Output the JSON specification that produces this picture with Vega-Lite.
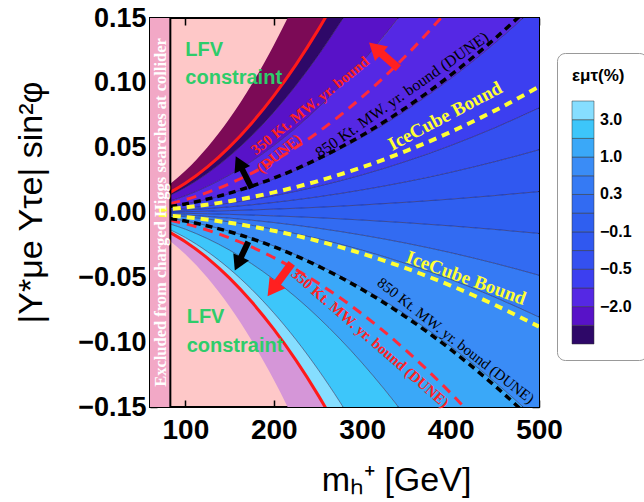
{
  "$schema": "https://vega.github.io/schema/vega-lite/v6.json",
  "autosize": "none",
  "width": 389,
  "height": 389,
  "padding": {"left": 150, "top": 18, "right": 105, "bottom": 95},
  "background": "white",
  "view": {"fill": "#fec8c8", "stroke": "black", "strokeWidth": 2},
  "resolve": {"axis": {"x": "independent", "y": "independent"}},
  "config": {
    "font": "Liberation Sans",
    "axis": {"grid": false, "domain": false, "labelColor": "black", "labelFont": "Liberation Sans", "labelFontWeight": "bold", "tickColor": "black", "tickSize": -7, "tickWidth": 1.5, "titleColor": "black", "titleFont": "Liberation Sans", "titleFontWeight": "normal", "labelFlush": false}
  },
  "datasets": {
    "bands": [
      {"b":"c0","lv":7,"m":83,"lo":-0.00044,"hi":0.00044},{"b":"c0","lv":7,"m":100,"lo":-0.00065,"hi":0.00065},{"b":"c0","lv":7,"m":125,"lo":-0.00101,"hi":0.00101},{"b":"c0","lv":7,"m":150,"lo":-0.00145,"hi":0.00145},{"b":"c0","lv":7,"m":175,"lo":-0.00198,"hi":0.00198},{"b":"c0","lv":7,"m":200,"lo":-0.00258,"hi":0.00258},{"b":"c0","lv":7,"m":225,"lo":-0.00327,"hi":0.00327},{"b":"c0","lv":7,"m":250,"lo":-0.00403,"hi":0.00403},{"b":"c0","lv":7,"m":275,"lo":-0.00488,"hi":0.00488},{"b":"c0","lv":7,"m":300,"lo":-0.00581,"hi":0.00581},{"b":"c0","lv":7,"m":350,"lo":-0.0079,"hi":0.0079},{"b":"c0","lv":7,"m":400,"lo":-0.01032,"hi":0.01032},{"b":"c0","lv":7,"m":450,"lo":-0.01306,"hi":0.01306},{"b":"c0","lv":7,"m":500,"lo":-0.01613,"hi":0.01613},
      {"b":"u8","lv":6,"m":83,"lo":0.00044,"hi":0.00133},{"b":"u8","lv":6,"m":100,"lo":0.00065,"hi":0.00194},{"b":"u8","lv":6,"m":125,"lo":0.00101,"hi":0.00302},{"b":"u8","lv":6,"m":150,"lo":0.00145,"hi":0.00435},{"b":"u8","lv":6,"m":175,"lo":0.00198,"hi":0.00593},{"b":"u8","lv":6,"m":200,"lo":0.00258,"hi":0.00774},{"b":"u8","lv":6,"m":225,"lo":0.00327,"hi":0.0098},{"b":"u8","lv":6,"m":250,"lo":0.00403,"hi":0.01209},{"b":"u8","lv":6,"m":275,"lo":0.00488,"hi":0.01463},{"b":"u8","lv":6,"m":300,"lo":0.00581,"hi":0.01742},{"b":"u8","lv":6,"m":350,"lo":0.0079,"hi":0.0237},{"b":"u8","lv":6,"m":400,"lo":0.01032,"hi":0.03096},{"b":"u8","lv":6,"m":450,"lo":0.01306,"hi":0.03918},{"b":"u8","lv":6,"m":500,"lo":0.01613,"hi":0.04838},
      {"b":"u9","lv":5,"m":83,"lo":0.00133,"hi":0.00222},{"b":"u9","lv":5,"m":100,"lo":0.00194,"hi":0.00323},{"b":"u9","lv":5,"m":125,"lo":0.00302,"hi":0.00504},{"b":"u9","lv":5,"m":150,"lo":0.00435,"hi":0.00726},{"b":"u9","lv":5,"m":175,"lo":0.00593,"hi":0.00988},{"b":"u9","lv":5,"m":200,"lo":0.00774,"hi":0.0129},{"b":"u9","lv":5,"m":225,"lo":0.0098,"hi":0.01633},{"b":"u9","lv":5,"m":250,"lo":0.01209,"hi":0.02016},{"b":"u9","lv":5,"m":275,"lo":0.01463,"hi":0.02439},{"b":"u9","lv":5,"m":300,"lo":0.01742,"hi":0.02903},{"b":"u9","lv":5,"m":350,"lo":0.0237,"hi":0.03951},{"b":"u9","lv":5,"m":400,"lo":0.03096,"hi":0.0516},{"b":"u9","lv":5,"m":450,"lo":0.03918,"hi":0.06531},{"b":"u9","lv":5,"m":500,"lo":0.04838,"hi":0.08063},
      {"b":"u10","lv":4,"m":83,"lo":0.00222,"hi":0.00444},{"b":"u10","lv":4,"m":100,"lo":0.00323,"hi":0.00645},{"b":"u10","lv":4,"m":125,"lo":0.00504,"hi":0.01008},{"b":"u10","lv":4,"m":150,"lo":0.00726,"hi":0.01451},{"b":"u10","lv":4,"m":175,"lo":0.00988,"hi":0.01975},{"b":"u10","lv":4,"m":200,"lo":0.0129,"hi":0.0258},{"b":"u10","lv":4,"m":225,"lo":0.01633,"hi":0.03265},{"b":"u10","lv":4,"m":250,"lo":0.02016,"hi":0.04031},{"b":"u10","lv":4,"m":275,"lo":0.02439,"hi":0.04878},{"b":"u10","lv":4,"m":300,"lo":0.02903,"hi":0.05805},{"b":"u10","lv":4,"m":350,"lo":0.03951,"hi":0.07901},{"b":"u10","lv":4,"m":400,"lo":0.0516,"hi":0.1032},{"b":"u10","lv":4,"m":450,"lo":0.06531,"hi":0.13061},{"b":"u10","lv":4,"m":500,"lo":0.08063,"hi":0.16125},
      {"b":"u11","lv":3,"m":83,"lo":0.00444,"hi":0.00889},{"b":"u11","lv":3,"m":100,"lo":0.00645,"hi":0.0129},{"b":"u11","lv":3,"m":125,"lo":0.01008,"hi":0.02016},{"b":"u11","lv":3,"m":150,"lo":0.01451,"hi":0.02903},{"b":"u11","lv":3,"m":175,"lo":0.01975,"hi":0.0395},{"b":"u11","lv":3,"m":200,"lo":0.0258,"hi":0.0516},{"b":"u11","lv":3,"m":225,"lo":0.03265,"hi":0.0653},{"b":"u11","lv":3,"m":250,"lo":0.04031,"hi":0.08063},{"b":"u11","lv":3,"m":275,"lo":0.04878,"hi":0.09756},{"b":"u11","lv":3,"m":300,"lo":0.05805,"hi":0.1161},{"b":"u11","lv":3,"m":350,"lo":0.07901,"hi":0.15802},{"b":"u11","lv":3,"m":400,"lo":0.1032,"hi":0.2064},{"b":"u11","lv":3,"m":450,"lo":0.13061,"hi":0.26122},{"b":"u11","lv":3,"m":500,"lo":0.16125,"hi":0.3225},
      {"b":"u12","lv":2,"m":83,"lo":0.00889,"hi":0.01333},{"b":"u12","lv":2,"m":100,"lo":0.0129,"hi":0.01935},{"b":"u12","lv":2,"m":125,"lo":0.02016,"hi":0.03023},{"b":"u12","lv":2,"m":150,"lo":0.02903,"hi":0.04354},{"b":"u12","lv":2,"m":175,"lo":0.0395,"hi":0.05926},{"b":"u12","lv":2,"m":200,"lo":0.0516,"hi":0.0774},{"b":"u12","lv":2,"m":225,"lo":0.0653,"hi":0.09796},{"b":"u12","lv":2,"m":250,"lo":0.08063,"hi":0.12094},{"b":"u12","lv":2,"m":275,"lo":0.09756,"hi":0.14634},{"b":"u12","lv":2,"m":300,"lo":0.1161,"hi":0.17415},{"b":"u12","lv":2,"m":350,"lo":0.15802,"hi":0.23703},
      {"b":"u13","lv":1,"m":83,"lo":0.01333,"hi":0.0155},{"b":"u13","lv":1,"m":100,"lo":0.01935,"hi":0.0225},{"b":"u13","lv":1,"m":125,"lo":0.03023,"hi":0.03516},{"b":"u13","lv":1,"m":150,"lo":0.04354,"hi":0.05063},{"b":"u13","lv":1,"m":175,"lo":0.05926,"hi":0.06891},{"b":"u13","lv":1,"m":200,"lo":0.0774,"hi":0.09},{"b":"u13","lv":1,"m":225,"lo":0.09796,"hi":0.11391},{"b":"u13","lv":1,"m":250,"lo":0.12094,"hi":0.14063},{"b":"u13","lv":1,"m":275,"lo":0.14634,"hi":0.17016},{"b":"u13","lv":1,"m":300,"lo":0.17415,"hi":0.2025},
      {"b":"d6","lv":8,"m":83,"lo":-0.00133,"hi":-0.00044},{"b":"d6","lv":8,"m":100,"lo":-0.00194,"hi":-0.00065},{"b":"d6","lv":8,"m":125,"lo":-0.00302,"hi":-0.00101},{"b":"d6","lv":8,"m":150,"lo":-0.00435,"hi":-0.00145},{"b":"d6","lv":8,"m":175,"lo":-0.00593,"hi":-0.00198},{"b":"d6","lv":8,"m":200,"lo":-0.00774,"hi":-0.00258},{"b":"d6","lv":8,"m":225,"lo":-0.0098,"hi":-0.00327},{"b":"d6","lv":8,"m":250,"lo":-0.01209,"hi":-0.00403},{"b":"d6","lv":8,"m":275,"lo":-0.01463,"hi":-0.00488},{"b":"d6","lv":8,"m":300,"lo":-0.01742,"hi":-0.00581},{"b":"d6","lv":8,"m":350,"lo":-0.0237,"hi":-0.0079},{"b":"d6","lv":8,"m":400,"lo":-0.03096,"hi":-0.01032},{"b":"d6","lv":8,"m":450,"lo":-0.03918,"hi":-0.01306},{"b":"d6","lv":8,"m":500,"lo":-0.04838,"hi":-0.01613},
      {"b":"d5","lv":9,"m":83,"lo":-0.00222,"hi":-0.00133},{"b":"d5","lv":9,"m":100,"lo":-0.00323,"hi":-0.00194},{"b":"d5","lv":9,"m":125,"lo":-0.00504,"hi":-0.00302},{"b":"d5","lv":9,"m":150,"lo":-0.00726,"hi":-0.00435},{"b":"d5","lv":9,"m":175,"lo":-0.00988,"hi":-0.00593},{"b":"d5","lv":9,"m":200,"lo":-0.0129,"hi":-0.00774},{"b":"d5","lv":9,"m":225,"lo":-0.01633,"hi":-0.0098},{"b":"d5","lv":9,"m":250,"lo":-0.02016,"hi":-0.01209},{"b":"d5","lv":9,"m":275,"lo":-0.02439,"hi":-0.01463},{"b":"d5","lv":9,"m":300,"lo":-0.02903,"hi":-0.01742},{"b":"d5","lv":9,"m":350,"lo":-0.03951,"hi":-0.0237},{"b":"d5","lv":9,"m":400,"lo":-0.0516,"hi":-0.03096},{"b":"d5","lv":9,"m":450,"lo":-0.06531,"hi":-0.03918},{"b":"d5","lv":9,"m":500,"lo":-0.08063,"hi":-0.04838},
      {"b":"d4","lv":10,"m":83,"lo":-0.00444,"hi":-0.00222},{"b":"d4","lv":10,"m":100,"lo":-0.00645,"hi":-0.00323},{"b":"d4","lv":10,"m":125,"lo":-0.01008,"hi":-0.00504},{"b":"d4","lv":10,"m":150,"lo":-0.01451,"hi":-0.00726},{"b":"d4","lv":10,"m":175,"lo":-0.01975,"hi":-0.00988},{"b":"d4","lv":10,"m":200,"lo":-0.0258,"hi":-0.0129},{"b":"d4","lv":10,"m":225,"lo":-0.03265,"hi":-0.01633},{"b":"d4","lv":10,"m":250,"lo":-0.04031,"hi":-0.02016},{"b":"d4","lv":10,"m":275,"lo":-0.04878,"hi":-0.02439},{"b":"d4","lv":10,"m":300,"lo":-0.05805,"hi":-0.02903},{"b":"d4","lv":10,"m":350,"lo":-0.07901,"hi":-0.03951},{"b":"d4","lv":10,"m":400,"lo":-0.1032,"hi":-0.0516},{"b":"d4","lv":10,"m":450,"lo":-0.13061,"hi":-0.06531},{"b":"d4","lv":10,"m":500,"lo":-0.16125,"hi":-0.08063},
      {"b":"d3","lv":11,"m":83,"lo":-0.00889,"hi":-0.00444},{"b":"d3","lv":11,"m":100,"lo":-0.0129,"hi":-0.00645},{"b":"d3","lv":11,"m":125,"lo":-0.02016,"hi":-0.01008},{"b":"d3","lv":11,"m":150,"lo":-0.02903,"hi":-0.01451},{"b":"d3","lv":11,"m":175,"lo":-0.0395,"hi":-0.01975},{"b":"d3","lv":11,"m":200,"lo":-0.0516,"hi":-0.0258},{"b":"d3","lv":11,"m":225,"lo":-0.0653,"hi":-0.03265},{"b":"d3","lv":11,"m":250,"lo":-0.08063,"hi":-0.04031},{"b":"d3","lv":11,"m":275,"lo":-0.09756,"hi":-0.04878},{"b":"d3","lv":11,"m":300,"lo":-0.1161,"hi":-0.05805},{"b":"d3","lv":11,"m":350,"lo":-0.15802,"hi":-0.07901},{"b":"d3","lv":11,"m":400,"lo":-0.2064,"hi":-0.1032},{"b":"d3","lv":11,"m":450,"lo":-0.26122,"hi":-0.13061},{"b":"d3","lv":11,"m":500,"lo":-0.3225,"hi":-0.16125},
      {"b":"d2","lv":12,"m":83,"lo":-0.01333,"hi":-0.00889},{"b":"d2","lv":12,"m":100,"lo":-0.01935,"hi":-0.0129},{"b":"d2","lv":12,"m":125,"lo":-0.03023,"hi":-0.02016},{"b":"d2","lv":12,"m":150,"lo":-0.04354,"hi":-0.02903},{"b":"d2","lv":12,"m":175,"lo":-0.05926,"hi":-0.0395},{"b":"d2","lv":12,"m":200,"lo":-0.0774,"hi":-0.0516},{"b":"d2","lv":12,"m":225,"lo":-0.09796,"hi":-0.0653},{"b":"d2","lv":12,"m":250,"lo":-0.12094,"hi":-0.08063},{"b":"d2","lv":12,"m":275,"lo":-0.14634,"hi":-0.09756},{"b":"d2","lv":12,"m":300,"lo":-0.17415,"hi":-0.1161},{"b":"d2","lv":12,"m":350,"lo":-0.23703,"hi":-0.15802},
      {"b":"d1","lv":13,"m":83,"lo":-0.0155,"hi":-0.01333},{"b":"d1","lv":13,"m":100,"lo":-0.0225,"hi":-0.01935},{"b":"d1","lv":13,"m":125,"lo":-0.03516,"hi":-0.03023},{"b":"d1","lv":13,"m":150,"lo":-0.05063,"hi":-0.04354},{"b":"d1","lv":13,"m":175,"lo":-0.06891,"hi":-0.05926},{"b":"d1","lv":13,"m":200,"lo":-0.09,"hi":-0.0774},{"b":"d1","lv":13,"m":225,"lo":-0.11391,"hi":-0.09796},{"b":"d1","lv":13,"m":250,"lo":-0.14063,"hi":-0.12094},{"b":"d1","lv":13,"m":275,"lo":-0.17016,"hi":-0.14634},{"b":"d1","lv":13,"m":300,"lo":-0.2025,"hi":-0.17415}
    ],
    "lfv": [
      {"s":"up","m":83,"lo":0.0155,"hi":0.02222},{"s":"up","m":100,"lo":0.0225,"hi":0.03225},{"s":"up","m":125,"lo":0.03516,"hi":0.05039},{"s":"up","m":150,"lo":0.05063,"hi":0.07256},{"s":"up","m":175,"lo":0.06891,"hi":0.09877},{"s":"up","m":200,"lo":0.09,"hi":0.129},{"s":"up","m":225,"lo":0.11391,"hi":0.16327},{"s":"up","m":250,"lo":0.14063,"hi":0.20156},{"s":"up","m":275,"lo":0.17016,"hi":0.24389},
      {"s":"dn","m":83,"lo":-0.02222,"hi":-0.0155},{"s":"dn","m":100,"lo":-0.03225,"hi":-0.0225},{"s":"dn","m":125,"lo":-0.05039,"hi":-0.03516},{"s":"dn","m":150,"lo":-0.07256,"hi":-0.05063},{"s":"dn","m":175,"lo":-0.09877,"hi":-0.06891},{"s":"dn","m":200,"lo":-0.129,"hi":-0.09},{"s":"dn","m":225,"lo":-0.16327,"hi":-0.11391},{"s":"dn","m":250,"lo":-0.20156,"hi":-0.14063},{"s":"dn","m":275,"lo":-0.24389,"hi":-0.17016}
    ],
    "bounds": [
      {"k":"red","s":"up","m":83,"y":0.0155},{"k":"red","s":"up","m":100,"y":0.0225},{"k":"red","s":"up","m":125,"y":0.03516},{"k":"red","s":"up","m":150,"y":0.05063},{"k":"red","s":"up","m":175,"y":0.06891},{"k":"red","s":"up","m":200,"y":0.09},{"k":"red","s":"up","m":225,"y":0.11391},{"k":"red","s":"up","m":250,"y":0.14063},{"k":"red","s":"up","m":275,"y":0.17016},
      {"k":"red","s":"dn","m":83,"y":-0.0155},{"k":"red","s":"dn","m":100,"y":-0.0225},{"k":"red","s":"dn","m":125,"y":-0.03516},{"k":"red","s":"dn","m":150,"y":-0.05063},{"k":"red","s":"dn","m":175,"y":-0.06891},{"k":"red","s":"dn","m":200,"y":-0.09},{"k":"red","s":"dn","m":225,"y":-0.11391},{"k":"red","s":"dn","m":250,"y":-0.14063},{"k":"red","s":"dn","m":275,"y":-0.17016},
      {"k":"rdash","s":"up","m":83,"y":0.00682},{"k":"rdash","s":"up","m":100,"y":0.0099},{"k":"rdash","s":"up","m":150,"y":0.02228},{"k":"rdash","s":"up","m":200,"y":0.0396},{"k":"rdash","s":"up","m":250,"y":0.06188},{"k":"rdash","s":"up","m":300,"y":0.0891},{"k":"rdash","s":"up","m":350,"y":0.12128},{"k":"rdash","s":"up","m":400,"y":0.1584},
      {"k":"rdash","s":"dn","m":83,"y":-0.00599},{"k":"rdash","s":"dn","m":100,"y":-0.0087},{"k":"rdash","s":"dn","m":150,"y":-0.01958},{"k":"rdash","s":"dn","m":200,"y":-0.0348},{"k":"rdash","s":"dn","m":250,"y":-0.05438},{"k":"rdash","s":"dn","m":300,"y":-0.0783},{"k":"rdash","s":"dn","m":350,"y":-0.10658},{"k":"rdash","s":"dn","m":400,"y":-0.1392},{"k":"rdash","s":"dn","m":450,"y":-0.17618},
      {"k":"kdash","s":"up","m":83,"y":0.00456},{"k":"kdash","s":"up","m":100,"y":0.00662},{"k":"kdash","s":"up","m":150,"y":0.0149},{"k":"kdash","s":"up","m":200,"y":0.02648},{"k":"kdash","s":"up","m":250,"y":0.04138},{"k":"kdash","s":"up","m":300,"y":0.05958},{"k":"kdash","s":"up","m":350,"y":0.0811},{"k":"kdash","s":"up","m":400,"y":0.10592},{"k":"kdash","s":"up","m":450,"y":0.13406},{"k":"kdash","s":"up","m":500,"y":0.1655},
      {"k":"kdash","s":"dn","m":83,"y":-0.00455},{"k":"kdash","s":"dn","m":100,"y":-0.0066},{"k":"kdash","s":"dn","m":150,"y":-0.01485},{"k":"kdash","s":"dn","m":200,"y":-0.0264},{"k":"kdash","s":"dn","m":250,"y":-0.04125},{"k":"kdash","s":"dn","m":300,"y":-0.0594},{"k":"kdash","s":"dn","m":350,"y":-0.08085},{"k":"kdash","s":"dn","m":400,"y":-0.1056},{"k":"kdash","s":"dn","m":450,"y":-0.13365},{"k":"kdash","s":"dn","m":500,"y":-0.165},
      {"k":"ydash","s":"up","m":70,"y":0.0019},{"k":"ydash","s":"up","m":100,"y":0.00388},{"k":"ydash","s":"up","m":150,"y":0.00873},{"k":"ydash","s":"up","m":200,"y":0.01552},{"k":"ydash","s":"up","m":250,"y":0.02425},{"k":"ydash","s":"up","m":300,"y":0.03492},{"k":"ydash","s":"up","m":350,"y":0.04753},{"k":"ydash","s":"up","m":400,"y":0.06208},{"k":"ydash","s":"up","m":450,"y":0.07857},{"k":"ydash","s":"up","m":500,"y":0.097},
      {"k":"ydash","s":"dn","m":70,"y":-0.00172},{"k":"ydash","s":"dn","m":100,"y":-0.00352},{"k":"ydash","s":"dn","m":150,"y":-0.00792},{"k":"ydash","s":"dn","m":200,"y":-0.01408},{"k":"ydash","s":"dn","m":250,"y":-0.022},{"k":"ydash","s":"dn","m":300,"y":-0.03168},{"k":"ydash","s":"dn","m":350,"y":-0.04312},{"k":"ydash","s":"dn","m":400,"y":-0.05632},{"k":"ydash","s":"dn","m":450,"y":-0.07128},{"k":"ydash","s":"dn","m":500,"y":-0.088}
    ],
    "strip": [{"m1": 60, "m2": 83, "y1": -0.15, "y2": 0.15}],
    "notes": [
      {"id":"excl","text":"Excluded from charged Higgs searches at collider","m":72.4,"y":0},
      {"id":"lfv","text":"LFV","m":100,"y":0.125},
      {"id":"lfv","text":"constraint","m":100,"y":0.1037},
      {"id":"lfv","text":"LFV","m":101.5,"y":-0.0806},
      {"id":"lfv","text":"constraint","m":101.5,"y":-0.103},
      {"id":"r1","text":"350 Kt. MW. yr. bound","m":241,"y":0.0825},
      {"id":"r1","text":"(DUNE)","m":206,"y":0.0456},
      {"id":"k1","text":"850 Kt. MW. yr. bound (DUNE)","m":345,"y":0.0906},
      {"id":"y1","text":"IceCube Bound","m":393.7,"y":0.0744},
      {"id":"y2","text":"IceCube Bound","m":417.5,"y":-0.0505},
      {"id":"k2","text":"850 Kt. MW. yr. bound (DUNE)","m":406,"y":-0.0987},
      {"id":"r2","text":"350 Kt. MW. yr. bound  (DUNE)","m":309,"y":-0.0968}
    ],
    "arrows": [
      {"id":"ar1","kind":"red","m":340.9,"y":0.1112,"m2":314.8,"y2":0.1268},
      {"id":"ak1","kind":"black","m":175,"y":0.0187,"m2":160.7,"y2":0.0382},
      {"id":"ak2","kind":"black","m":171.2,"y":-0.0225,"m2":159.5,"y2":-0.0395},
      {"id":"ar2","kind":"red","m":220.3,"y":-0.0392,"m2":198.6,"y2":-0.0593}
    ]
  },
  "layer": [
    {
      "data": {"name": "bands"},
      "mark": {"type": "area", "clip": true, "interpolate": "monotone"},
      "encoding": {
        "x": {"field": "m", "type": "quantitative", "scale": {"domain": [60, 500], "nice": false, "zero": false},
              "axis": {"title": "mₕ⁺ [GeV]", "values": [100, 200, 300, 400, 500], "format": "d", "labelFontSize": 28, "labelPadding": 16, "titleFontSize": 34, "titleX": 246, "titleY": 83, "titleBaseline": "alphabetic", "titleAlign": "center"}},
        "y": {"field": "lo", "type": "quantitative", "stack": null, "scale": {"domain": [-0.15, 0.15], "nice": false, "zero": false},
              "axis": {"title": "|Y*μe Yτe| sin²φ", "values": [-0.15, -0.1, -0.05, 0, 0.05, 0.1, 0.15], "format": ".2f", "labelFontSize": 27, "labelPadding": 11, "titleFontSize": 34, "titleX": -119, "titleY": 184, "titleAlign": "center", "titleBaseline": "middle"}},
        "y2": {"field": "hi"},
        "detail": {"field": "b"},
        "color": {"field": "lv", "type": "quantitative",
          "scale": {"type": "threshold", "domain": [1.5, 2.5, 3.5, 4.5, 5.5, 6.5, 7.5, 8.5, 9.5, 10.5, 11.5, 12.5],
                    "range": ["#2e0868", "#5812c8", "#5528e4", "#3c3ff0", "#3450f0", "#3058f0", "#2f5ff0", "#326bf2", "#357af4", "#3a8cf6", "#3aa8f8", "#3dc6fa", "#86deff"]},
          "legend": {"title": "εμτ(%)", "type": "gradient", "orient": "none", "legendX": 407, "legendY": 35, "direction": "vertical", "gradientLength": 243, "gradientThickness": 22, "gradientStrokeColor": "#333", "gradientStrokeWidth": 0.5,
                     "labelExpr": "datum.value == 12.5 ? '3.0' : datum.value == 10.5 ? '1.0' : datum.value == 8.5 ? '0.3' : datum.value == 6.5 ? '−0.1' : datum.value == 4.5 ? '−0.5' : datum.value == 2.5 ? '−2.0' : ''",
                     "labelFont": "Liberation Sans", "labelFontSize": 16, "labelFontWeight": "bold", "labelColor": "black", "labelOffset": 6, "labelOverlap": false,
                     "titleFont": "Liberation Sans", "titleFontSize": 17, "titleFontWeight": "bold", "titleColor": "black", "titlePadding": 16,
                     "padding": 15, "strokeColor": "#999999", "cornerRadius": 8, "fillColor": "white"}}
      }
    },
    {
      "data": {"name": "lfv"},
      "mark": {"type": "area", "clip": true, "interpolate": "monotone"},
      "encoding": {
        "x": {"field": "m", "type": "quantitative", "axis": null},
        "y": {"field": "lo", "type": "quantitative", "stack": null, "axis": null},
        "y2": {"field": "hi"},
        "fill": {"field": "s", "type": "nominal", "scale": {"domain": ["up", "dn"], "range": ["#7c0a56", "#d596d8"]}, "legend": null}
      }
    },
    {
      "data": {"name": "bands"},
      "mark": {"type": "line", "clip": true, "interpolate": "monotone", "color": "#101040", "strokeWidth": 0.8, "opacity": 0.6},
      "encoding": {
        "x": {"field": "m", "type": "quantitative", "axis": null},
        "y": {"field": "lo", "type": "quantitative", "axis": null},
        "detail": {"field": "b"}
      }
    },
    {
      "data": {"name": "strip"},
      "mark": {"type": "rect", "color": "#f2a8c6"},
      "encoding": {
        "x": {"field": "m1", "type": "quantitative", "axis": {"orient": "top", "labels": false, "title": null, "values": [100, 200, 300, 400, 500]}},
        "x2": {"field": "m2"},
        "y": {"field": "y1", "type": "quantitative", "axis": {"orient": "right", "labels": false, "title": null, "values": [-0.15, -0.1, -0.05, 0, 0.05, 0.1, 0.15]}},
        "y2": {"field": "y2"}
      }
    },
    {
      "data": {"name": "bounds"},
      "transform": [{"filter": "datum.k == 'red'"}],
      "mark": {"type": "line", "clip": true, "interpolate": "monotone", "color": "#ff1a1a", "strokeWidth": 3},
      "encoding": {"x": {"field": "m", "type": "quantitative", "axis": null}, "y": {"field": "y", "type": "quantitative", "axis": null}, "detail": {"field": "s"}}
    },
    {
      "data": {"name": "bounds"},
      "transform": [{"filter": "datum.k == 'rdash'"}],
      "mark": {"type": "line", "clip": true, "interpolate": "monotone", "color": "#ff2a3a", "strokeWidth": 3, "strokeDash": [10, 7]},
      "encoding": {"x": {"field": "m", "type": "quantitative", "axis": null}, "y": {"field": "y", "type": "quantitative", "axis": null}, "detail": {"field": "s"}}
    },
    {
      "data": {"name": "bounds"},
      "transform": [{"filter": "datum.k == 'kdash'"}],
      "mark": {"type": "line", "clip": true, "interpolate": "monotone", "color": "black", "strokeWidth": 3.5, "strokeDash": [7, 5]},
      "encoding": {"x": {"field": "m", "type": "quantitative", "axis": null}, "y": {"field": "y", "type": "quantitative", "axis": null}, "detail": {"field": "s"}}
    },
    {
      "data": {"name": "bounds"},
      "transform": [{"filter": "datum.k == 'ydash'"}],
      "mark": {"type": "line", "clip": true, "interpolate": "monotone", "color": "#ffff33", "strokeWidth": 4, "strokeDash": [8, 6]},
      "encoding": {"x": {"field": "m", "type": "quantitative", "axis": null}, "y": {"field": "y", "type": "quantitative", "axis": null}, "detail": {"field": "s"}}
    },
    {
      "data": {"name": "strip"},
      "mark": {"type": "rule", "color": "black", "strokeWidth": 2},
      "encoding": {"x": {"field": "m2", "type": "quantitative", "axis": null}}
    },
    {
      "data": {"name": "notes"},
      "transform": [{"filter": "datum.id == 'excl'"}],
      "mark": {"type": "text", "angle": 270, "font": "Liberation Serif", "fontWeight": "bold", "fontSize": 16.5, "color": "white", "align": "center", "baseline": "middle"},
      "encoding": {"x": {"field": "m", "type": "quantitative", "axis": null}, "y": {"field": "y", "type": "quantitative", "axis": null}, "text": {"field": "text"}}
    },
    {
      "data": {"name": "notes"},
      "transform": [{"filter": "datum.id == 'lfv'"}],
      "mark": {"type": "text", "font": "Liberation Sans", "fontWeight": "bold", "fontSize": 20, "color": "#2ecc6a", "align": "left", "baseline": "middle"},
      "encoding": {"x": {"field": "m", "type": "quantitative", "axis": null}, "y": {"field": "y", "type": "quantitative", "axis": null}, "text": {"field": "text"}}
    },
    {
      "data": {"name": "notes"},
      "transform": [{"filter": "datum.id == 'r1'"}],
      "mark": {"type": "text", "angle": 321, "font": "Liberation Serif", "fontWeight": "bold", "fontSize": 15, "color": "#ff2222", "align": "center", "baseline": "middle"},
      "encoding": {"x": {"field": "m", "type": "quantitative", "axis": null}, "y": {"field": "y", "type": "quantitative", "axis": null}, "text": {"field": "text"}}
    },
    {
      "data": {"name": "notes"},
      "transform": [{"filter": "datum.id == 'k1'"}],
      "mark": {"type": "text", "angle": 325, "font": "Liberation Serif", "fontSize": 16, "color": "black", "align": "center", "baseline": "middle"},
      "encoding": {"x": {"field": "m", "type": "quantitative", "axis": null}, "y": {"field": "y", "type": "quantitative", "axis": null}, "text": {"field": "text"}}
    },
    {
      "data": {"name": "notes"},
      "transform": [{"filter": "datum.id == 'y1'"}],
      "mark": {"type": "text", "angle": 332, "font": "Liberation Serif", "fontWeight": "bold", "fontSize": 19, "color": "#ffff33", "align": "center", "baseline": "middle"},
      "encoding": {"x": {"field": "m", "type": "quantitative", "axis": null}, "y": {"field": "y", "type": "quantitative", "axis": null}, "text": {"field": "text"}}
    },
    {
      "data": {"name": "notes"},
      "transform": [{"filter": "datum.id == 'y2'"}],
      "mark": {"type": "text", "angle": 20, "font": "Liberation Serif", "fontWeight": "bold", "fontSize": 19, "color": "#ffff33", "align": "center", "baseline": "middle"},
      "encoding": {"x": {"field": "m", "type": "quantitative", "axis": null}, "y": {"field": "y", "type": "quantitative", "axis": null}, "text": {"field": "text"}}
    },
    {
      "data": {"name": "notes"},
      "transform": [{"filter": "datum.id == 'k2'"}],
      "mark": {"type": "text", "angle": 38, "font": "Liberation Serif", "fontSize": 15, "color": "black", "align": "center", "baseline": "middle"},
      "encoding": {"x": {"field": "m", "type": "quantitative", "axis": null}, "y": {"field": "y", "type": "quantitative", "axis": null}, "text": {"field": "text"}}
    },
    {
      "data": {"name": "notes"},
      "transform": [{"filter": "datum.id == 'r2'"}],
      "mark": {"type": "text", "angle": 41, "font": "Liberation Serif", "fontWeight": "bold", "fontSize": 15, "color": "#ff2222", "align": "center", "baseline": "middle"},
      "encoding": {"x": {"field": "m", "type": "quantitative", "axis": null}, "y": {"field": "y", "type": "quantitative", "axis": null}, "text": {"field": "text"}}
    },
    {
      "data": {"name": "arrows"},
      "transform": [{"filter": "datum.kind == 'red'"}],
      "mark": {"type": "rule", "color": "#ff2020", "strokeWidth": 8},
      "encoding": {"x": {"field": "m", "type": "quantitative", "axis": null}, "y": {"field": "y", "type": "quantitative", "axis": null}, "x2": {"field": "m2"}, "y2": {"field": "y2"}}
    },
    {
      "data": {"name": "arrows"},
      "transform": [{"filter": "datum.kind == 'black'"}],
      "mark": {"type": "rule", "color": "black", "strokeWidth": 6},
      "encoding": {"x": {"field": "m", "type": "quantitative", "axis": null}, "y": {"field": "y", "type": "quantitative", "axis": null}, "x2": {"field": "m2"}, "y2": {"field": "y2"}}
    },
    {
      "data": {"name": "arrows"},
      "transform": [{"filter": "datum.id == 'ar1'"}],
      "mark": {"type": "point", "shape": "triangle-up", "filled": true, "opacity": 1, "size": 380, "angle": 312, "color": "#ff2020"},
      "encoding": {"x": {"field": "m2", "type": "quantitative", "axis": null}, "y": {"field": "y2", "type": "quantitative", "axis": null}}
    },
    {
      "data": {"name": "arrows"},
      "transform": [{"filter": "datum.id == 'ak1'"}],
      "mark": {"type": "point", "shape": "triangle-up", "filled": true, "opacity": 1, "size": 300, "angle": 334, "color": "black"},
      "encoding": {"x": {"field": "m2", "type": "quantitative", "axis": null}, "y": {"field": "y2", "type": "quantitative", "axis": null}}
    },
    {
      "data": {"name": "arrows"},
      "transform": [{"filter": "datum.id == 'ak2'"}],
      "mark": {"type": "point", "shape": "triangle-up", "filled": true, "opacity": 1, "size": 300, "angle": 205, "color": "black"},
      "encoding": {"x": {"field": "m2", "type": "quantitative", "axis": null}, "y": {"field": "y2", "type": "quantitative", "axis": null}}
    },
    {
      "data": {"name": "arrows"},
      "transform": [{"filter": "datum.id == 'ar2'"}],
      "mark": {"type": "point", "shape": "triangle-up", "filled": true, "opacity": 1, "size": 380, "angle": 216, "color": "#ff2020"},
      "encoding": {"x": {"field": "m2", "type": "quantitative", "axis": null}, "y": {"field": "y2", "type": "quantitative", "axis": null}}
    }
  ]
}
